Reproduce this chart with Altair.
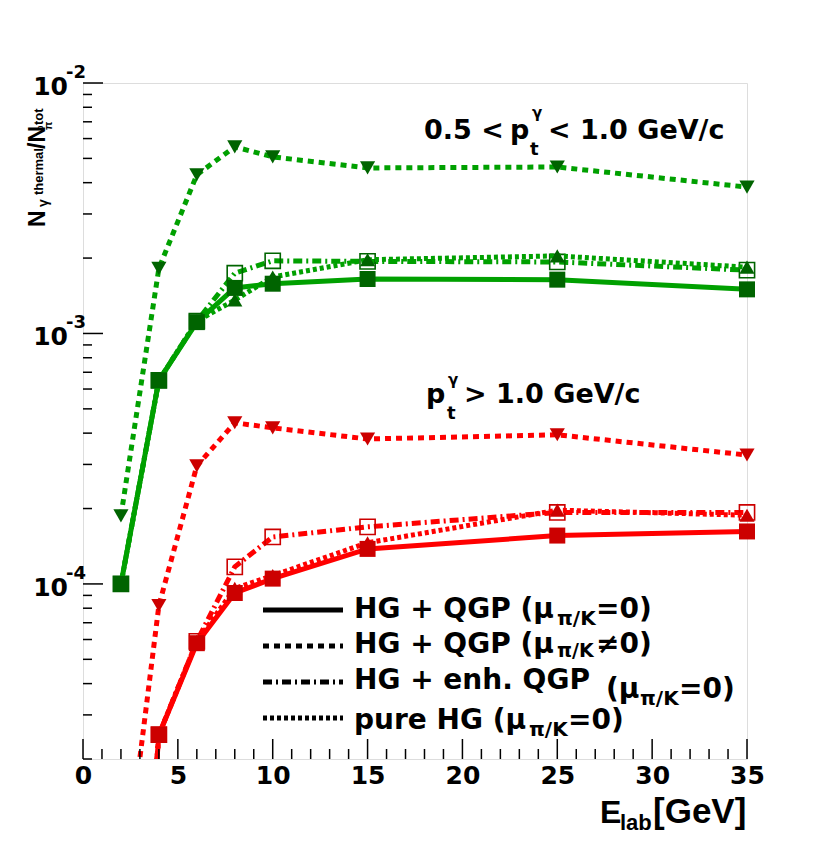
import altair as alt
import pandas as pd

# ---------------- data ----------------
E = [2, 4, 6, 8, 10, 15, 25, 35]

# 0.5 < pt < 1.0 GeV/c  (green)
green_solid = [1.0e-4, 6.5e-4, 1.11e-3, 1.52e-3, 1.58e-3, 1.65e-3, 1.64e-3, 1.50e-3]
green_dashed = [1.87e-4, 1.82e-3, 4.30e-3, 5.56e-3, 5.07e-3, 4.58e-3, 4.62e-3, 3.84e-3]
green_enh = [1.0e-4, 6.5e-4, 1.12e-3, 1.74e-3, 1.95e-3, 1.94e-3, 1.93e-3, 1.79e-3]
green_pure = [1.0e-4, 6.5e-4, 1.12e-3, 1.36e-3, 1.68e-3, 1.97e-3, 2.04e-3, 1.84e-3]

# pt > 1.0 GeV/c  (red)
red_solid = [3.0e-7, 2.5e-5, 5.8e-5, 9.2e-5, 1.05e-4, 1.38e-4, 1.56e-4, 1.62e-4]
red_dashed = [5.0e-6, 8.2e-5, 2.96e-4, 4.40e-4, 4.20e-4, 3.79e-4, 3.94e-4, 3.27e-4]
red_enh = [3.0e-7, 2.5e-5, 5.9e-5, 1.17e-4, 1.54e-4, 1.69e-4, 1.93e-4, 1.93e-4]
red_pure = [3.0e-7, 2.5e-5, 5.9e-5, 9.6e-5, 1.08e-4, 1.46e-4, 1.97e-4, 1.88e-4]

X_MAJOR = [0, 5, 10, 15, 20, 25, 30, 35]
X_MINOR = [i for i in range(0, 36) if i % 5 != 0]
Y_MAJOR = [1e-4, 1e-3, 1e-2]
Y_MAJOR_EXP = ["-4", "-3", "-2"]
Y_MINOR = [m * 10.0 ** k for k in (-5, -4, -3) for m in range(2, 10) if m * 10.0 ** k >= 2e-5]

Y_MIN, Y_MAX = 2e-5, 1e-2
X_MIN, X_MAX = 0, 35

# ---------------- styling ----------------
W, H = 664, 676
FONT = "DejaVu Sans"
FONT2 = "Liberation Sans"
GREEN, GREEN_M = "#00a000", "#006400"
RED, RED_M = "#ff0000", "#cc0000"
LW = 5
DASHED = [6, 5]
DASHDOT = [9, 4, 2, 4]
DOTTED = [4, 3]

xs = alt.Scale(domain=[X_MIN, X_MAX], nice=False, zero=False)
ys = alt.Scale(type="log", domain=[Y_MIN, Y_MAX], nice=False)
xaxis = alt.Axis(values=X_MAJOR, ticks=False, tickSize=0, domain=False, grid=False,
                 labelFont=FONT, labelFontSize=25, labelFontWeight="bold", labelColor="black",
                 labelPadding=4, labelFlush=False, title=None, labelOverlap=False)


def X(f):
    return alt.X(f, scale=xs, axis=xaxis)


def Y(f):
    return alt.Y(f, scale=ys, axis=None)


def series(vals, color, mcolor, dash, shape, filled):
    df = pd.DataFrame({"E": E, "v": vals})
    lk = dict(color=color, strokeWidth=LW, clip=True, strokeCap="butt")
    if dash is not None:
        lk["strokeDash"] = dash
    line = alt.Chart(df).mark_line(**lk).encode(x=X("E:Q"), y=Y("v:Q"))
    if filled:
        pk = dict(shape=shape, filled=True, color=mcolor, opacity=1,
                  size=256 if shape == "square" else 230)
    else:
        pk = dict(shape=shape, filled=False, color=mcolor, opacity=1, strokeWidth=1.6, size=230)
    pts = (alt.Chart(df).transform_filter(f"datum.v >= {Y_MIN}")
           .mark_point(**pk).encode(x=X("E:Q"), y=Y("v:Q")))
    return [line, pts]


def txt(s, px, py, size, font=FONT, align="left", angle=0, baseline="alphabetic"):
    kw = dict(font=font, fontSize=size, fontWeight="bold", color="black",
              align=align, baseline=baseline)
    if angle:
        kw["angle"] = angle
    return alt.Chart(pd.DataFrame({"t": [s]})).mark_text(**kw).encode(
        text="t:N", x=alt.value(px), y=alt.value(py))


def hline(px1, px2, py, dash):
    kw = dict(color="black", strokeWidth=LW, strokeCap="butt")
    if dash is not None:
        kw["strokeDash"] = dash
    return alt.Chart(pd.DataFrame({"a": [0]})).mark_rule(**kw).encode(
        x=alt.value(px1), x2=alt.value(px2), y=alt.value(py))


layers = []

# data series
for band in (("green", GREEN, GREEN_M, green_enh, green_pure, green_solid, green_dashed),
             ("red", RED, RED_M, red_enh, red_pure, red_solid, red_dashed)):
    _, c, m, enh, pure, solid, dashed = band
    layers += series(enh, c, m, DASHDOT, "square", False)
    layers += series(pure, c, m, DOTTED, "triangle-up", True)
    layers += series(solid, c, m, None, "square", True)
    layers += series(dashed, c, m, DASHED, "triangle-down", True)

# inward ticks (ROOT style)
layers.append(alt.Chart(pd.DataFrame({"t": X_MAJOR})).mark_rule(color="black", strokeWidth=1.5)
              .encode(x=X("t:Q"), y=alt.value(H), y2=alt.value(H - 20)))
layers.append(alt.Chart(pd.DataFrame({"t": X_MINOR})).mark_rule(color="black", strokeWidth=1.5)
              .encode(x=X("t:Q"), y=alt.value(H), y2=alt.value(H - 10)))
layers.append(alt.Chart(pd.DataFrame({"t": Y_MAJOR})).mark_rule(color="black", strokeWidth=1.5)
              .encode(y=Y("t:Q"), x=alt.value(0), x2=alt.value(20)))
layers.append(alt.Chart(pd.DataFrame({"t": Y_MINOR})).mark_rule(color="black", strokeWidth=1.5)
              .encode(y=Y("t:Q"), x=alt.value(0), x2=alt.value(9)))

# y tick labels 10^k
ylab = pd.DataFrame({"t": Y_MAJOR, "e": Y_MAJOR_EXP})
layers.append(alt.Chart(ylab).mark_text(font=FONT, fontSize=25, fontWeight="bold", color="black",
                                        align="right", baseline="middle", dy=4)
              .encode(y=Y("t:Q"), x=alt.value(-15), text="b:N")
              .transform_calculate(b="'10'"))
layers.append(alt.Chart(ylab).mark_text(font=FONT, fontSize=18, fontWeight="bold", color="black",
                                        align="left", baseline="middle", dy=-10)
              .encode(y=Y("t:Q"), x=alt.value(-17), text="e:N"))

# annotations
layers += [
    txt("0.5 <", 341, 56, 27),
    txt("p", 427, 56, 27),
    txt("γ", 449, 35, 15),
    txt("t", 447, 72, 18),
    txt("< 1.0 GeV/c", 465, 56, 27),
    txt("p", 343, 320, 27),
    txt("γ", 365, 302, 15),
    txt("t", 364, 336, 18),
    txt("> 1.0 GeV/c", 381, 320, 27),
]

# x title
layers += [
    txt("E", 517, 740, 32, font=FONT2),
    txt("lab", 537, 747, 22, font=FONT2),
    txt("[GeV]", 570, 740, 35, font=FONT2),
]

# y title (rotated)
layers += [
    txt("N", -38, 144, 23, font=FONT2, angle=270),
    txt("γ", -35, 124, 14, font=FONT2, angle=270),
    txt("thermal", -40, 112, 13, font=FONT2, angle=270),
    txt("/N", -38, 66, 23, font=FONT2, angle=270),
    txt("π", -31, 47, 11, font=FONT2, angle=270),
    txt("0", -40, 47, 8, font=FONT2, angle=270),
    txt("tot", -40, 42, 13, font=FONT2, angle=270),
]

# legend
layers += [
    hline(180, 260, 527, None),
    hline(180, 260, 563, DASHED),
    hline(180, 260, 599, DASHDOT),
    hline(180, 260, 635, DOTTED),
    txt("HG + QGP (μ", 271, 535, 28),
    txt("π/K", 474, 542, 20),
    txt("=0)", 513, 535, 28),
    txt("HG + QGP (μ", 271, 570, 28),
    txt("π/K", 474, 574, 19),
    txt("≠0)", 513, 570, 28),
    txt("HG + enh. QGP", 271, 606, 28),
    txt("(μ", 523, 615, 28),
    txt("π/K", 557, 622, 20),
    txt("=0)", 596, 615, 28),
    txt("pure HG (μ", 271, 646, 28),
    txt("π/K", 446, 653, 20),
    txt("=0)", 485, 646, 28),
]

chart = alt.layer(*layers).properties(
    width=W, height=H,
    autosize=alt.AutoSizeParams(type="none"),
    padding={"left": 75, "top": 75, "right": 40, "bottom": 78},
).configure_view(stroke="black", strokeWidth=1.5).configure(background="white")

chart.save("out.html", embed_options={"renderer": "svg", "actions": False})
